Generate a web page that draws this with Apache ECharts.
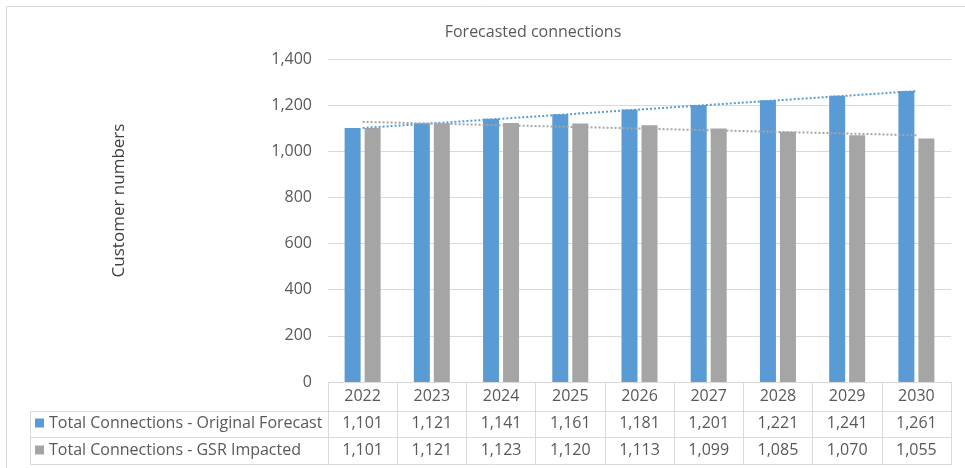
<!DOCTYPE html>
<html>
<head>
<meta charset="utf-8">
<script src="https://cdn.jsdelivr.net/npm/echarts@6/dist/echarts.min.js"></script>
<style>
  html, body { margin: 0; padding: 0; background: #ffffff; }
  #chart { width: 965px; height: 468px; }
</style>
</head>
<body>
<div id="chart"></div>
<script>
// Forecasted connections by year
const years = ['2022', '2023', '2024', '2025', '2026', '2027', '2028', '2029', '2030'];
const originalForecast = [1101, 1121, 1141, 1161, 1181, 1201, 1221, 1241, 1261];
const gsrImpacted = [1101, 1121, 1123, 1120, 1113, 1099, 1085, 1070, 1055];
const yTicks = { min: 0, max: 1400, interval: 200 };

const nameOriginal = 'Total Connections - Original Forecast';
const nameGsr = 'Total Connections - GSR Impacted';

const BLUE = '#5b9bd5';
const GREY = '#a5a5a5';
const TEXT = '#595959';
const LINE = '#d9d9d9';
const FONT = '"Open Sans", "DejaVu Sans", sans-serif';

// Least-squares linear trend across the category positions
function linearTrend(values) {
  const n = values.length;
  const mx = (n - 1) / 2;
  const my = values.reduce((a, b) => a + b, 0) / n;
  let sxy = 0, sxx = 0;
  values.forEach((v, i) => { sxy += (i - mx) * (v - my); sxx += (i - mx) * (i - mx); });
  const slope = sxy / sxx;
  return values.map((_, i) => my + slope * (i - mx));
}

const fmt = v => v.toLocaleString('en-US');

const chart = echarts.init(document.getElementById('chart'), null, { renderer: 'canvas' });

const tableRowAxis = (values, offset) => ({
  type: 'category',
  gridIndex: 0,
  position: 'bottom',
  offset: offset,
  data: values.map(fmt),
  axisLine: { show: false },
  axisTick: { show: false },
  splitLine: { show: false },
  axisLabel: { interval: 0, margin: 4, fontSize: 16, lineHeight: 20, color: TEXT, fontFamily: FONT }
});

chart.setOption({
  animation: false,
  backgroundColor: '#ffffff',
  textStyle: { fontFamily: FONT },
  title: {
    text: 'Forecasted connections',
    left: 528,
    textAlign: 'center',
    top: 19,
    textStyle: { fontSize: 16, fontWeight: 'normal', color: TEXT, fontFamily: FONT }
  },
  grid: { left: 328, right: 14, top: 59, bottom: 86, containLabel: false },
  legend: {
    orient: 'vertical',
    left: 35,
    top: 414,
    padding: 0,
    itemGap: 9,
    itemWidth: 9,
    itemHeight: 9,
    icon: 'rect',
    selectedMode: false,
    data: [nameOriginal, nameGsr],
    textStyle: { fontSize: 16, lineHeight: 18, color: TEXT, fontFamily: FONT }
  },
  xAxis: [
    {
      type: 'category',
      gridIndex: 0,
      data: years,
      axisLine: { show: true, lineStyle: { color: LINE, width: 1 } },
      axisTick: { show: true, interval: 0, length: 83, lineStyle: { color: LINE, width: 1 } },
      axisLabel: { interval: 0, margin: 4, fontSize: 16, lineHeight: 20, color: TEXT, fontFamily: FONT }
    },
    tableRowAxis(originalForecast, 27),
    tableRowAxis(gsrImpacted, 54)
  ],
  yAxis: {
    type: 'value',
    min: yTicks.min,
    max: yTicks.max,
    interval: yTicks.interval,
    name: 'Customer numbers',
    nameLocation: 'middle',
    nameRotate: 90,
    nameGap: 200,
    nameTextStyle: { fontSize: 17, color: '#404040', fontFamily: FONT, padding: [0, 0, 0, 40] },
    axisLine: { show: false },
    axisTick: { show: false },
    axisLabel: { margin: 16, fontSize: 16, color: TEXT, fontFamily: FONT, formatter: v => fmt(v) },
    splitLine: { lineStyle: { color: LINE, width: 1 } }
  },
  series: [
    {
      name: nameOriginal,
      type: 'bar',
      data: originalForecast,
      barWidth: 16,
      barGap: '25%',
      itemStyle: { color: BLUE },
      z: 2
    },
    {
      name: nameGsr,
      type: 'bar',
      data: gsrImpacted,
      barWidth: 16,
      barGap: '25%',
      itemStyle: { color: GREY },
      z: 2
    },
    {
      name: 'Linear (' + nameOriginal + ')',
      type: 'line',
      data: linearTrend(originalForecast),
      symbol: 'none',
      silent: true,
      lineStyle: { color: BLUE, width: 2, type: [2, 2] },
      z: 5
    },
    {
      name: 'Linear (' + nameGsr + ')',
      type: 'line',
      data: linearTrend(gsrImpacted),
      symbol: 'none',
      silent: true,
      lineStyle: { color: GREY, width: 2, type: [2, 2] },
      z: 5
    }
  ],
  graphic: [
    // outer chart frame
    { type: 'rect', shape: { x: 6.5, y: 6.5, width: 970, height: 480 }, style: { fill: null, stroke: LINE, lineWidth: 1 }, silent: true },
    // data table rules
    { type: 'line', shape: { x1: 30, y1: 411.5, x2: 951, y2: 411.5 }, style: { stroke: LINE, lineWidth: 1 }, silent: true },
    { type: 'line', shape: { x1: 30, y1: 437.5, x2: 951, y2: 437.5 }, style: { stroke: LINE, lineWidth: 1 }, silent: true },
    { type: 'line', shape: { x1: 30, y1: 464.5, x2: 951, y2: 464.5 }, style: { stroke: LINE, lineWidth: 1 }, silent: true },
    { type: 'line', shape: { x1: 30.5, y1: 411, x2: 30.5, y2: 465 }, style: { stroke: LINE, lineWidth: 1 }, silent: true }
  ]
});
</script>
</body>
</html>
